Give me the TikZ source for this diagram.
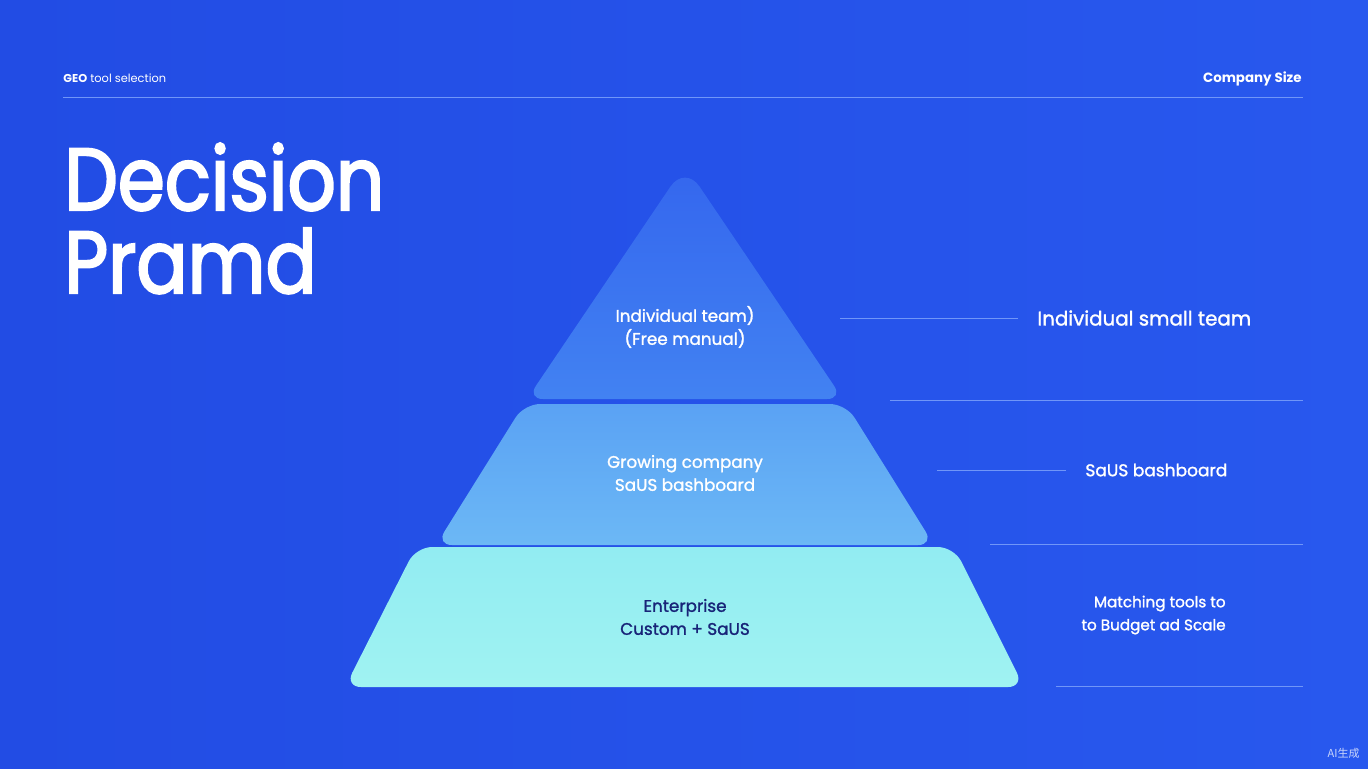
\documentclass[tikz,border=0pt]{standalone}
\usepackage{fontspec}
\setmainfont{Poppins}
\newfontfamily\titlefont{Poppins}[FakeBold=2.4, FakeStretch=0.86]
\newfontfamily\medfont{Poppins}[FakeBold=1.4]
\newfontfamily\cjkfont{Noto Sans CJK SC}
\usetikzlibrary{positioning}

\definecolor{bgblueL}{RGB}{34,76,228}
\definecolor{bgblueR}{RGB}{40,88,238}
\definecolor{ruleblue}{RGB}{112,150,248}
\definecolor{topA}{RGB}{52,102,238}
\definecolor{topB}{RGB}{66,130,242}
\definecolor{midA}{RGB}{90,162,244}
\definecolor{midB}{RGB}{108,184,245}
\definecolor{lowA}{RGB}{146,236,242}
\definecolor{lowB}{RGB}{160,243,242}
\definecolor{navytext}{RGB}{24,36,120}

\tikzset{
	rule/.style={draw=ruleblue, line width=0.5pt},
	tiertext/.style={align=center, font=\fontsize{8.4}{11.5}\medfont},
	sidelabel/.style={text=white, anchor=west, inner xsep=9.5pt, inner ysep=0pt},
}

\begin{document}
\begin{tikzpicture}[x=0.5pt, y=-0.5pt]
	\useasboundingbox (0, 0) rectangle (1368, 768);
	\shade[left color=bgblueL, right color=bgblueR] (0, 0) rectangle (1368, 768);
	
	% header
	\node[anchor=base west, inner sep=0pt, text=white, font=\fontsize{5.7}{7}\selectfont] (kicker) at (63, 82) {\textbf{GEO} tool selection};
	\node[anchor=base east, inner sep=0pt, text=white, font=\fontsize{6.7}{8}\selectfont\bfseries] (axis) at (1302, 82) {Company Size};
	\coordinate (h1) at (63, 97);
	\coordinate (h2) at (1303, 97);
	\draw[rule] (h1) -- (h2);
	
	% title
	\node[anchor=base west, inner sep=0pt, text=white, font=\fontsize{44}{44}\titlefont] (title) at (64, 210) {Decision};
	\node[anchor=base west, inner sep=0pt, text=white, font=\fontsize{44}{44}\titlefont] (title2) at (64, 293) {Pramd};
	
	% pyramid, bottom tier first
	\shade[top color=lowA, bottom color=lowB, rounded corners=8pt]
		(345, 687) -- (416, 547) -- (954, 547) -- (1024, 687) -- cycle;
	\shade[top color=midA, bottom color=midB, rounded corners=8pt]
		(436, 545) -- (524, 404) -- (846, 404) -- (934, 545) -- cycle;
	\shade[top color=topA, bottom color=topB]
		(527, 399) [rounded corners=13pt] -- (685, 165) [rounded corners=8pt] -- (843, 399) -- cycle;
	
	\node[tiertext, text=white] (tier1) at (685, 327) {Individual team)\\(Free manual)};
	\node[tiertext, text=white] (tier2) at (685, 473) {Growing company\\SaUS bashboard};
	\node[tiertext, text=navytext] (tier3) at (685, 617) {Enterprise\\Custom + SaUS};
	
	% right side labels
	\node[sidelabel, font=\fontsize{9.9}{12}\medfont] (lab1) at (1018, 318) {Individual small team};
	\node[sidelabel, font=\fontsize{8.5}{11}\medfont] (lab2) at (1066, 470) {SaUS bashboard};
	\node[anchor=east, inner sep=0pt, align=right, text=white, font=\fontsize{7.6}{11.5}\medfont] (lab3) at (1226, 615) {Matching tools to\\to Budget ad Scale};
	
	\coordinate (r1) at (840, 318);
	\coordinate (r2) at (937, 470);
	\draw[rule] (r1) -- (lab1.west);
	\draw[rule] (r2) -- (lab2.west);
	
	% separators
	\coordinate (s1a) at (890, 400);
	\coordinate (s1b) at (1303, 400);
	\coordinate (s2a) at (990, 544);
	\coordinate (s2b) at (1303, 544);
	\coordinate (s3a) at (1056, 686);
	\coordinate (s3b) at (1303, 686);
	\draw[rule] (s1a) -- (s1b);
	\draw[rule] (s2a) -- (s2b);
	\draw[rule] (s3a) -- (s3b);
	
	\node[anchor=base east, inner sep=0pt, text=white!75!bgblueR, font=\fontsize{5.5}{6}\cjkfont] (mark) at (1360, 757) {AI生成};
\end{tikzpicture}
\end{document}
